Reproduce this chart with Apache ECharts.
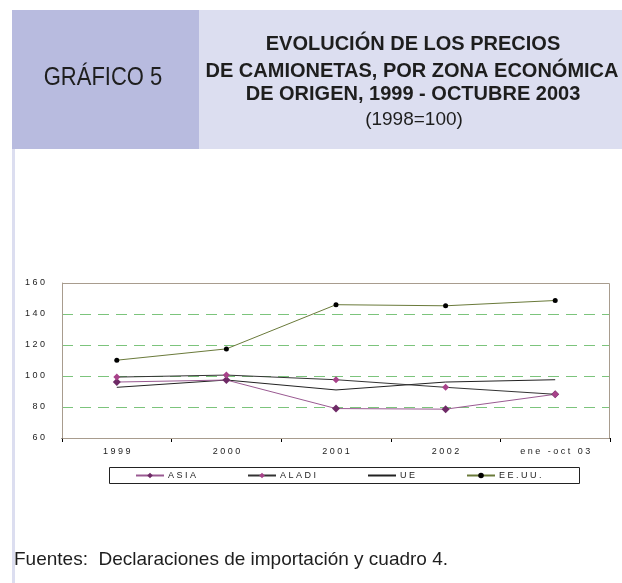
<!DOCTYPE html>
<html><head><meta charset="utf-8">
<script src="https://cdn.jsdelivr.net/npm/echarts@6/dist/echarts.min.js"></script>
<style>html,body{margin:0;padding:0;background:#fff;}#c{width:622px;height:583px;}</style>
</head><body><div id="c"></div>
<script>
const categories = ['1999', '2000', '2001', '2002', 'ene -oct 03'];
const asia  = [96.1, 97.4, 79.0, 78.6, 88.2];
const aladi = [99.3, 100.6, 97.6, 92.7, 88.2];
const ue    = [92.7, 97.4, 91.0, 96.1, 97.6];
const eeuu  = [110.2, 117.5, 146.0, 145.3, 148.7];
const seriesNames = ['ASIA', 'ALADI', 'UE', 'EE.UU.'];
const yTicks = {min: 60, max: 160, interval: 20};

const spaced = s => s.split('').join(' ');
const chart = echarts.init(document.getElementById('c'));
const sans = '"Liberation Sans", Arial, sans-serif';
function txt(text, x, y, font, sx, align) {
  return {type: 'text', x: x, y: y, scaleX: sx || 1, z: 5,
    style: {text: text, x: 0, y: 0, textAlign: align || 'center', textVerticalAlign: 'middle', font: font, fill: '#1e1e1e'}};
}
chart.setOption({
  animation: false,
  backgroundColor: '#ffffff',
  grid: {left: 62, top: 283, right: 12, bottom: 145, containLabel: false},
  graphic: [
    {type: 'rect', x: 12, y: 10, shape: {x: 0, y: 0, width: 187, height: 139}, style: {fill: '#b8bbdf'}, z: 0},
    {type: 'rect', x: 199, y: 10, shape: {x: 0, y: 0, width: 423, height: 139}, style: {fill: '#dcdef0'}, z: 0},
    {type: 'rect', x: 12, y: 149, shape: {x: 0, y: 0, width: 3, height: 434}, style: {fill: '#dcdef0'}, z: 0},
    txt('GRÁFICO 5', 103, 78, '25px ' + sans, 0.88),
    txt('EVOLUCIÓN DE LOS PRECIOS', 413, 44, 'bold 20px ' + sans, 1),
    txt('DE CAMIONETAS, POR ZONA ECONÓMICA', 412, 71, 'bold 20px ' + sans, 1),
    txt('DE ORIGEN, 1999 - OCTUBRE 2003', 413, 94, 'bold 20px ' + sans, 1),
    txt('(1998=100)', 414, 120, '19px ' + sans, 1),
    txt('Fuentes:  Declaraciones de importación y cuadro 4.', 14, 560, '19px ' + sans, 1, 'left'),
    {type: 'rect', x: 62.5, y: 283.5, shape: {x: 0, y: 0, width: 547, height: 155}, style: {fill: 'none', stroke: '#a89c8e', lineWidth: 1}, z: 50},
    {type: 'rect', x: 109.5, y: 467.5, shape: {x: 0, y: 0, width: 470, height: 16}, style: {fill: 'none', stroke: '#222', lineWidth: 1}, z: 5}
  ],
  legend: {
    data: [{name: 'ASIA'}, {name: 'ALADI'}, {name: 'UE', itemStyle: {opacity: 0}}, {name: 'EE.UU.'}],
    left: 135, top: 471, itemGap: 51, itemWidth: 28, itemHeight: 7,
    padding: 0,
    formatter: n => spaced(n),
    textStyle: {fontSize: 9, fontFamily: sans, color: '#222', padding: [0, 0, 0, -1]}
  },
  xAxis: {
    type: 'category', data: categories, boundaryGap: true,
    axisLine: {lineStyle: {color: '#000', width: 1}},
    axisTick: {show: true, interval: 0, length: 4, lineStyle: {color: '#000'}},
    axisLabel: {interval: 0, margin: 9, fontSize: 9, fontFamily: sans, color: '#222', formatter: v => spaced(v)}
  },
  yAxis: {
    type: 'value', min: yTicks.min, max: yTicks.max, interval: yTicks.interval,
    axisLine: {show: true, lineStyle: {color: '#a89c8e'}},
    axisTick: {show: false},
    axisLabel: {margin: 17, fontSize: 9, fontFamily: sans, color: '#222', formatter: v => spaced(String(v))},
    splitLine: {show: true, showMinLine: false, showMaxLine: false, lineStyle: {color: '#7cc47c', type: [11, 7], width: 1}}
  },
  series: [
    {name: 'ASIA', type: 'line', data: asia, symbol: 'diamond', symbolSize: 8,
     lineStyle: {color: '#9a5a92', width: 1}, itemStyle: {color: '#6e2a66'}, z: 3},
    {name: 'ALADI', type: 'line', data: aladi, symbol: 'diamond', symbolSize: 7,
     lineStyle: {color: '#333333', width: 1}, itemStyle: {color: '#a8428a'}, z: 4},
    {name: 'UE', type: 'line', data: ue, symbol: 'none', showSymbol: false,
     lineStyle: {color: '#222222', width: 1}, itemStyle: {color: '#222222'}, z: 2},
    {name: 'EE.UU.', type: 'line', data: eeuu, symbol: 'circle', symbolSize: 5,
     lineStyle: {color: '#6a7a3a', width: 1}, itemStyle: {color: '#000000'}, z: 2}
  ]
});
</script></body></html>
